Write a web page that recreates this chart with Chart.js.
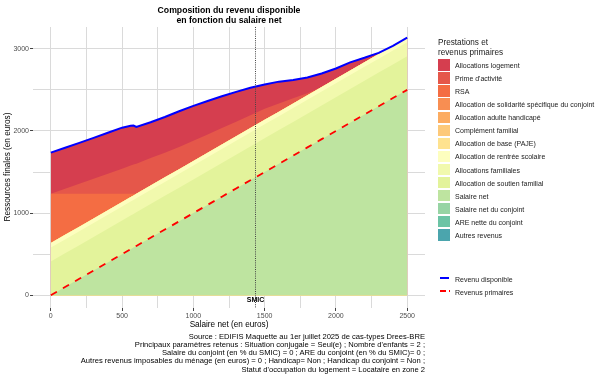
<!DOCTYPE html>
<html><head><meta charset="utf-8">
<script src="https://cdn.jsdelivr.net/npm/chart.js@4.4.1/dist/chart.umd.min.js"></script>
<style>
html,body{margin:0;padding:0;background:#fff;}
#wrap{position:relative;width:605px;height:378px;overflow:hidden;font-family:"Liberation Sans",Arial,sans-serif;}
canvas{position:absolute;left:0;top:0;}
.t{position:absolute;white-space:nowrap;color:#000;}
</style></head><body>
<div id="wrap">
<canvas id="c" width="605" height="378"></canvas>
<div class="t" style="left:0;width:458px;top:4.5px;text-align:center;font-weight:bold;font-size:8.7px;line-height:10px;">Composition du revenu disponible<br>en fonction du salaire net</div>
<div class="t" style="left:-62px;top:162px;width:140px;height:10px;line-height:10px;text-align:center;font-size:8.2px;transform:rotate(-90deg);transform-origin:70px 5px;">Ressources finales (en euros)</div>
<div class="t" style="left:149px;top:320px;width:160px;height:10px;line-height:10px;text-align:center;font-size:8.2px;">Salaire net (en euros)</div>
<div class="t" style="right:180px;top:332.5px;text-align:right;font-size:7.6px;line-height:8.3px;">Source : EDIFIS Maquette au 1er juillet 2025 de cas-types Drees-BRE<br>Principaux paramètres retenus : Situation conjugale = Seul(e) ; Nombre d'enfants = 2 ;<br>Salaire du conjoint (en % du SMIC) = 0 ; ARE du conjoint (en % du SMIC)= 0 ;<br>Autres revenus imposables du ménage (en euros) = 0 ; Handicap= Non ; Handicap du conjoint = Non ;<br>Statut d'occupation du logement = Locataire en zone 2</div>
<div class="t" style="left:438px;top:38.4px;font-size:8.2px;line-height:9.2px;color:#1a1a1a;">Prestations et<br>revenus primaires</div>
<div id="leg"></div>
</div>
<script>
// ---- data ----
const salaire      = [0,100,200,300,400,500,560,580,600,700,800,900,1000,1100,1200,1300,1400,1500,1600,1700,1800,1900,2000,2100,2200,2300,2400,2500];
const salaireNet   = [0,100,200,300,400,500,560,580,600,700,800,900,1000,1100,1200,1300,1400,1500,1600,1700,1800,1900,2000,2100,2200,2300,2400,2500];
const allocSoutienFam = [410,410,410,410,410,410,410,410,410,410,410,410,410,410,410,410,410,410,410,410,410,410,410,410,410,410,410,410];
const allocFamiliales = [170,170,170,170,170,170,170,170,170,170,170,170,170,170,170,170,170,170,170,170,170,170,170,170,170,170,170,170];
const allocRentree    = [55,55,55,55,55,55,55,55,55,55,55,55,55,55,55,55,55,55,55,55,55,55,55,55,55,55,55,55];
const rsa          = [601,501,401,301,201,101,41,21,0,0,0,0,0,0,0,0,0,0,0,0,0,0,0,0,0,0,0,0];
const primeActivite= [0,61,122,183,244,305,342,354,366,335,300,268,245,222,200,178,156,136,100,62,25,0,0,0,0,0,0,0];
const allocLogement= [500,498,497,496,498,499,484,476,447,435,435,437,425,408,387,362,334,294,265,223,190,165,125,100,55,15,0,0];
const paje         = [0,0,0,0,0,0,0,0,0,0,0,0,0,0,0,0,0,0,0,0,0,0,0,0,0,0,0,0];
const complFamilial= [0,0,0,0,0,0,0,0,0,0,0,0,0,0,0,0,0,0,0,0,0,0,0,0,0,0,0,0];
const aah          = [0,0,0,0,0,0,0,0,0,0,0,0,0,0,0,0,0,0,0,0,0,0,0,0,0,0,0,0];
const assConjoint  = [0,0,0,0,0,0,0,0,0,0,0,0,0,0,0,0,0,0,0,0,0,0,0,0,0,0,0,0];
const salaireConj  = [0,0,0,0,0,0,0,0,0,0,0,0,0,0,0,0,0,0,0,0,0,0,0,0,0,0,0,0];
const areConjoint  = [0,0,0,0,0,0,0,0,0,0,0,0,0,0,0,0,0,0,0,0,0,0,0,0,0,0,0,0];
const autresRevenus= [0,0,0,0,0,0,0,0,0,0,0,0,0,0,0,0,0,0,0,0,0,0,0,0,0,0,0,0];
const smic = 1432;
const smicLabelY = -55;
const xTicksMajor = [0,500,1000,1500,2000,2500];
const xTicksMinor = [250,750,1250,1750,2250];
const yTicksMajor = [0,1000,2000,3000];
const yTicksMinor = [500,1500,2500];

// legend order (top of list = top of stack)
const layers = [
  ["Allocations logement", allocLogement, "#d53e4f"],
  ["Prime d'activité", primeActivite, "#e5574a"],
  ["RSA", rsa, "#f46d43"],
  ["Allocation de solidarité spécifique du conjoint", assConjoint, "#f88e52"],
  ["Allocation adulte handicapé", aah, "#fcac61"],
  ["Complément familial", complFamilial, "#fdc979"],
  ["Allocation de base (PAJE)", paje, "#fee28f"],
  ["Allocation de rentrée scolaire", allocRentree, "#fdfebf"],
  ["Allocations familiales", allocFamiliales, "#f1f9ad"],
  ["Allocation de soutien familial", allocSoutienFam, "#e3f39b"],
  ["Salaire net", salaireNet, "#bee4a0"],
  ["Salaire net du conjoint", salaireConj, "#97d4a4"],
  ["ARE nette du conjoint", areConjoint, "#6cc4a5"],
  ["Autres revenus", autresRevenus, "#4ba5ad"]
];
const revenuDisponible = salaire.map((_, i) => layers.reduce((s, l) => s + l[1][i], 0));
const revenusPrimaires = salaireNet;

const FONT = '"Liberation Sans", Arial, sans-serif';
const pts = arr => salaire.map((x, i) => ({x: x, y: arr[i]}));

const datasets = [
  {label:'Revenu disponible', data: pts(revenuDisponible), yAxisID:'yL', borderColor:'#0000ff', borderWidth:2, pointRadius:0, fill:false, tension:0},
  {label:'Revenus primaires', data: pts(revenusPrimaires), yAxisID:'yL', borderColor:'#ff0000', borderWidth:1.8, borderDash:[7,7], pointRadius:0, fill:false, tension:0}
];
layers.slice().reverse().forEach(l => {
  datasets.push({label:l[0], data: pts(l[1]), yAxisID:'y', backgroundColor:l[2], borderColor:l[2], borderWidth:0, pointRadius:0, fill:'origin', tension:0});
});

// legend
const leg = document.getElementById('leg');
layers.forEach((l, i) => {
  const top = 59.3 + i * 13.05;
  const sw = document.createElement('div');
  sw.style.cssText = `position:absolute;left:438px;top:${top}px;width:12.3px;height:11.6px;background:${l[2]};`;
  leg.appendChild(sw);
  const tx = document.createElement('div');
  tx.className = 't';
  tx.style.cssText = `left:455px;top:${top + 5.8}px;transform:translateY(-50%);font-size:7px;color:#1a1a1a;`;
  tx.textContent = l[0];
  leg.appendChild(tx);
});
[['Revenu disponible', '#0000ff', 277.5, false], ['Revenus primaires', '#ff0000', 291, true]].forEach(r => {
  const k = document.createElement('div');
  k.style.cssText = `position:absolute;left:440px;top:${r[2] - 1}px;width:${r[3] ? 6 : 9}px;height:2px;background:${r[1]};`;
  leg.appendChild(k);
  if (r[3]) {
    const k2 = document.createElement('div');
    k2.style.cssText = `position:absolute;left:449px;top:${r[2] - 1}px;width:1px;height:2px;background:${r[1]};`;
    leg.appendChild(k2);
  }
  const tx = document.createElement('div');
  tx.className = 't';
  tx.style.cssText = `left:455px;top:${r[2] + 1}px;transform:translateY(-50%);font-size:7px;color:#1a1a1a;`;
  tx.textContent = r[0];
  leg.appendChild(tx);
});

const smicPlugin = {
  id: 'smic',
  afterDatasetsDraw(chart) {
    const {ctx, chartArea: a, scales} = chart;
    const px = Math.round(scales.x.getPixelForValue(smic)) + 0.5;
    ctx.save();
    ctx.strokeStyle = '#444';
    ctx.lineWidth = 1;
    ctx.setLineDash([1, 1.2]);
    ctx.beginPath();
    ctx.moveTo(px, a.top);
    ctx.lineTo(px, a.bottom);
    ctx.stroke();
    ctx.setLineDash([]);
    ctx.font = 'bold 7px ' + FONT;
    ctx.fillStyle = '#000';
    ctx.textAlign = 'center';
    ctx.textBaseline = 'middle';
    ctx.fillText('SMIC', px, scales.y.getPixelForValue(smicLabelY));
    ctx.restore();
  }
};

const tickSet = (maj, min) => scale => {
  scale.ticks = maj.concat(min).sort((a, b) => a - b).map(v => ({value: v}));
};

new Chart(document.getElementById('c'), {
  type: 'line',
  data: {datasets},
  options: {
    responsive: false,
    animation: false,
    devicePixelRatio: 1,
    layout: {padding: {top: 27, right: 180, left: 0, bottom: 0}},
    plugins: {legend: {display: false}, title: {display: false}, tooltip: {enabled: false}, filler: {drawTime: 'beforeDatasetsDraw'}},
    scales: {
      x: {
        type: 'linear', min: -125, max: 2625,
        afterBuildTicks: tickSet(xTicksMajor, xTicksMinor),
        afterFit: s => { s.height = 70; },
        ticks: {autoSkip: false, maxRotation: 0, padding: 1, color: '#4d4d4d', font: {family: FONT, size: 7},
          callback: v => xTicksMajor.includes(v) ? String(v) : ''},
        grid: {color: '#dadada', lineWidth: 1, tickLength: 3,
          tickColor: c => (c.tick && xTicksMajor.includes(c.tick.value)) ? '#444' : 'rgba(0,0,0,0)'},
        border: {display: false}
      },
      y: {
        type: 'linear', stacked: true, min: -155, max: 3265,
        afterBuildTicks: tickSet(yTicksMajor, yTicksMinor),
        afterFit: s => { s.width = 33; },
        ticks: {autoSkip: false, padding: 1, color: '#4d4d4d', font: {family: FONT, size: 7},
          callback: v => yTicksMajor.includes(v) ? String(v) : ''},
        grid: {color: '#dadada', lineWidth: 1, tickLength: 3,
          tickColor: c => (c.tick && yTicksMajor.includes(c.tick.value)) ? '#444' : 'rgba(0,0,0,0)'},
        border: {display: false}
      },
      yL: {type: 'linear', display: false, stacked: false, min: -155, max: 3265}
    }
  },
  plugins: [smicPlugin]
});
</script>
</body></html>
